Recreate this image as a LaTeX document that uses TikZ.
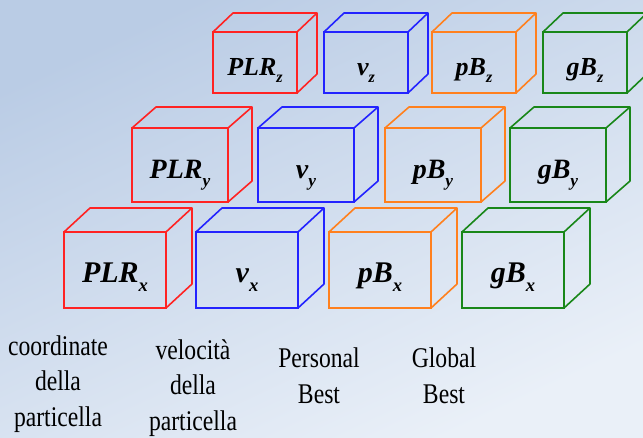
\documentclass[tikz,border=0pt]{standalone}
\usepackage{fontspec}
\setmainfont{Liberation Serif}
\newfontfamily\labfont[FakeStretch=0.83]{Liberation Serif}
\definecolor{bgA}{RGB}{186,204,229}
\definecolor{bgB}{RGB}{234,240,248}
\definecolor{cR}{RGB}{255,35,35}
\definecolor{cB}{RGB}{35,35,255}
\definecolor{cO}{RGB}{255,128,30}
\definecolor{cG}{RGB}{25,135,25}
\newcommand\subl[1]{\raisebox{-0.3em}{\scalebox{0.62}{#1}}}
\tikzset{
  face/.style={draw=#1, line width=1.6pt, rectangle, inner sep=0pt, outer sep=0pt, anchor=north west},
  edge/.style={draw=#1, line width=1.6pt, line join=round},
  boxlbl/.style={anchor=base, inner sep=0pt, font=\bfseries\itshape\fontsize{#1}{#1}\selectfont},
  caption/.style={anchor=base, align=center, inner sep=0pt, font=\labfont\fontsize{28.5}{35.5}\selectfont}
}
\begin{document}
\begin{tikzpicture}[x=1pt,y=-1pt]
\shade[top color=bgA, bottom color=bgB, shading angle=25] (0,0) rectangle (643,437);
\useasboundingbox (0,0) rectangle (643,437);
% row z (back)
\foreach \n/\x/\c/\m in {PLRz/213/cR/PLR, vz/324/cB/v, pBz/432/cO/pB, gBz/543/cG/gB}{
  \node[face=\c, minimum width=84pt, minimum height=61pt] (\n) at (\x,32) {};
  \draw[edge=\c] (\n.north west) -- ([shift={(20,-19)}]\n.north west) -- ([shift={(20,-19)}]\n.north east) -- ([shift={(20,-19)}]\n.south east) -- (\n.south east)
     (\n.north east) -- ([shift={(20,-19)}]\n.north east);
  \node[boxlbl=26] (\n-t) at ([shift={(0,12.5)}]\n.center) {\m\subl{z}};
}
% row y
\foreach \n/\x/\c/\m in {PLRy/132/cR/PLR, vy/258/cB/v, pBy/385/cO/pB, gBy/510/cG/gB}{
  \node[face=\c, minimum width=96pt, minimum height=74pt] (\n) at (\x,128) {};
  \draw[edge=\c] (\n.north west) -- ([shift={(24,-21)}]\n.north west) -- ([shift={(24,-21)}]\n.north east) -- ([shift={(24,-21)}]\n.south east) -- (\n.south east)
     (\n.north east) -- ([shift={(24,-21)}]\n.north east);
  \node[boxlbl=28] (\n-t) at ([shift={(0,13)}]\n.center) {\m\subl{y}};
}
% row x (front)
\foreach \n/\x/\c/\m in {PLRx/64/cR/PLR, vx/196/cB/v, pBx/329/cO/pB, gBx/462/cG/gB}{
  \node[face=\c, minimum width=102pt, minimum height=76pt] (\n) at (\x,232) {};
  \draw[edge=\c] (\n.north west) -- ([shift={(26,-24)}]\n.north west) -- ([shift={(26,-24)}]\n.north east) -- ([shift={(26,-24)}]\n.south east) -- (\n.south east)
     (\n.north east) -- ([shift={(26,-24)}]\n.north east);
  \node[boxlbl=30] (\n-t) at ([shift={(0,12)}]\n.center) {\m\subl{x}};
}
% captions (anchor = baseline of last line)
\node[caption] (capC) at (58,426) {coordinate\\della\\particella};
\node[caption] (capV) at (193,430) {velocità\\della\\particella};
\node[caption] (capP) at (319,403) {Personal\\Best};
\node[caption] (capG) at (444,403) {Global\\Best};
\end{tikzpicture}
\end{document}
